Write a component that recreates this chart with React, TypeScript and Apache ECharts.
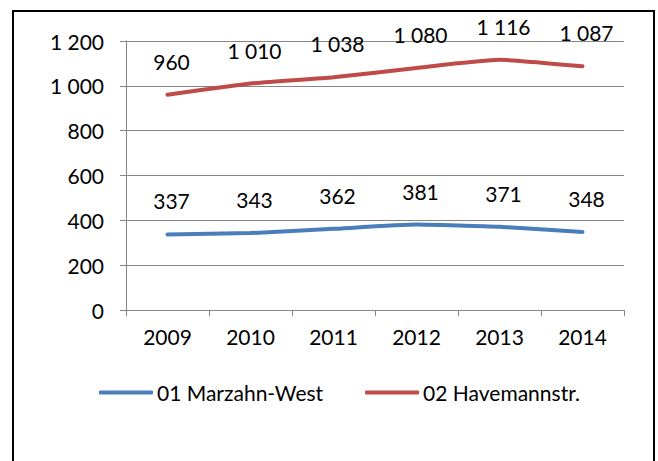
import React, { useEffect, useRef } from "react";
import * as echarts from "echarts";

const years = ["2009", "2010", "2011", "2012", "2013", "2014"];
const marzahnWest = [337, 343, 362, 381, 371, 348];
const havemannstr = [960, 1010, 1038, 1080, 1116, 1087];
const seriesNames = ["01 Marzahn-West", "02 Havemannstr."];
const colors = ["#4A7EBB", "#BE4B48"];

const fmt = (v: number) => String(v).replace(/\B(?=(\d{3})+(?!\d))/g, " ");
const FONT = "Lato";
const FS = 21;

export default function App() {
  const ref = useRef<HTMLDivElement>(null);
  useEffect(() => {
    const chart = echarts.init(ref.current!, null, { renderer: "svg" });
    const labelCfg = {
      show: true,
      position: "top",
      distance: 23,
      offset: [4, 0],
      fontSize: FS,
      fontFamily: FONT,
      color: "#000",
      formatter: (p: any) => fmt(p.value),
    };
    const mk = (i: number, data: number[]) => ({
      name: seriesNames[i],
      type: "line",
      data,
      smooth: 0.15,
      showSymbol: true,
      symbol: "circle",
      symbolSize: 0,
      lineStyle: { color: colors[i], width: 4, cap: "round" },
      itemStyle: { color: colors[i] },
      label: labelCfg,
    });
    chart.setOption({
      animation: false,
      backgroundColor: "#fff",
      textStyle: { fontFamily: FONT },
      grid: { left: 126, right: 34, top: 41, bottom: 151, containLabel: false },
      legend: {
        data: seriesNames,
        top: 377,
        left: 94,
        icon: "roundRect",
        itemWidth: 54,
        itemHeight: 4,
        itemGap: 42,
        textStyle: { fontSize: FS, fontFamily: FONT, color: "#000", padding: [0, 0, 0, -1] },
      },
      xAxis: {
        type: "category",
        data: years,
        boundaryGap: true,
        axisLine: { lineStyle: { color: "#868686", width: 1 } },
        axisTick: { show: true, length: 6, lineStyle: { color: "#868686" } },
        axisLabel: { fontSize: FS, fontFamily: FONT, color: "#000", margin: 16 },
      },
      yAxis: {
        type: "value",
        min: 0,
        max: 1200,
        interval: 200,
        axisLine: { show: true, lineStyle: { color: "#868686", width: 1 } },
        axisTick: { show: true, length: 6, lineStyle: { color: "#868686" } },
        axisLabel: { fontSize: FS, fontFamily: FONT, color: "#000", margin: 22, formatter: (v: number) => fmt(v) },
        splitLine: { show: true, lineStyle: { color: "#868686", width: 1 } },
      },
      series: [mk(0, marzahnWest), mk(1, havemannstr)],
      graphic: [
        {
          type: "rect",
          shape: { x: 13, y: 11, width: 641, height: 470 },
          style: { fill: "none", stroke: "#000", lineWidth: 2 },
          silent: true,
        },
      ],
    });
    return () => chart.dispose();
  }, []);
  return (
    <div
      ref={ref}
      style={{ position: "absolute", left: 0, top: 0, width: 658, height: 461 }}
    />
  );
}
